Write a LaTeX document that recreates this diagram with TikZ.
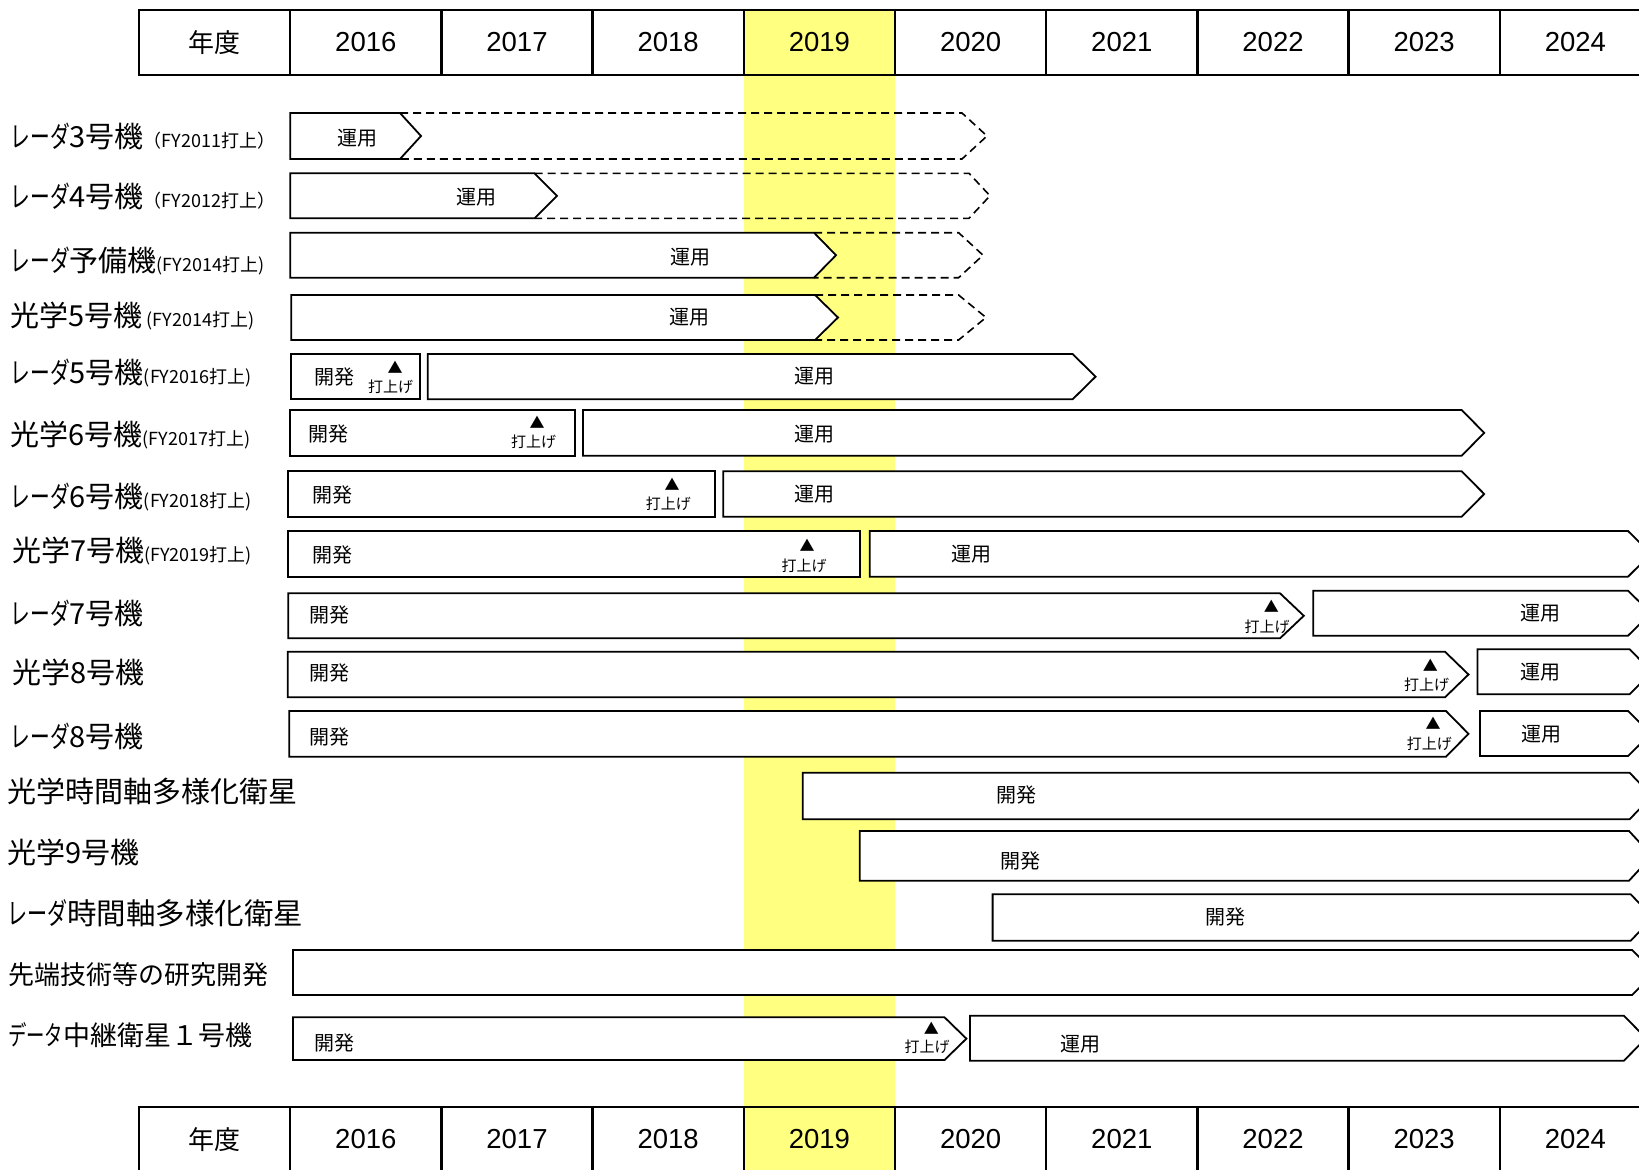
\documentclass[tikz,border=0pt]{standalone}
\usepackage{fontspec}
\setmainfont{Liberation Sans}
\newfontfamily\jp{Noto Sans CJK JP}
\newfontfamily\jpk[FakeStretch=0.68]{Noto Sans CJK JP}
\definecolor{band}{RGB}{255,255,128}
\newcommand\fs[1]{\fontsize{#1}{#1}\selectfont}
\newcommand\kn[1]{{\jpk #1}}
\newcommand\sm[1]{{\fs{18}#1}}
% arrow bar: [style] x1, x-corner, x-tip, y-top, y-bottom
\newcommand\arrowbar[6][]{%
  \draw[barline,#1] (#2,#5) -- (#3,#5) -- (#4,{(#5+#6)/2}) -- (#3,#6) -- (#2,#6) -- cycle;}
% open dashed continuation: x-start, x-corner, x-tip, y-top, y-bottom
\newcommand\dashbar[5]{%
  \draw[dashline] (#1,#4) -- (#2,#4) -- (#3,{(#4+#5)/2}) -- (#2,#5) -- (#1,#5);}
\newcommand\rectbar[4]{%
  \draw[barline] (#1,#3) rectangle (#2,#4);}

\begin{document}
\begin{tikzpicture}[x=1pt,y=-1pt,
  barline/.style={draw=black,line width=1.8pt,fill=white,line join=miter},
  dashline/.style={draw=black,line width=1.6pt,dash pattern=on 8pt off 5pt},
  cell/.style={draw=black,line width=2.4pt,minimum width=151.2pt,minimum height=65pt,inner sep=0pt,font=\fs{27.5}},
  lab/.style={anchor=west,inner sep=0pt,font=\jp\fs{29}},
  bartxt/.style={inner sep=0pt,font=\jp\fs{20}},
  launch/.style={inner sep=0pt,font=\jp\fs{15}},
  tri/.style={inner sep=0pt,font=\jp\fs{15}},
]
\useasboundingbox (0,0) rectangle (1639,1170);
\clip (0,0) rectangle (1639,1170);
\fill[white] (0,0) rectangle (1639,1170);

% highlighted fiscal year 2019
\fill[band] (743.8,10) rectangle (895,1172);

% header and footer tables
\node[cell,font=\jp\fs{26}] (hY) at (214.6,42.5) {年度};
\node[cell,font=\jp\fs{26}] (fY) at (214.6,1139.5) {年度};
\foreach \i/\yr in {1/2016,2/2017,3/2018,4/2019,5/2020,6/2021,7/2022,8/2023,9/2024}{
  \node[cell] (h\yr) at ({214.6+151.2*\i},42.5) {\yr};
  \node[cell] (f\yr) at ({214.6+151.2*\i},1139.5) {\yr};
}

% ---- dashed continuations (rows 1-4)
\dashbar{400}{962}{987}{113}{159}
\dashbar{534.5}{969}{990}{173.3}{218.3}
\dashbar{814}{958.6}{983}{232.7}{277.7}
\dashbar{815}{958.6}{986}{295}{340}

% ---- row 1-4 operation bars
\arrowbar{290.3}{400}{421}{113}{159}
\arrowbar{290.3}{534.5}{557}{173.3}{218.3}
\arrowbar{290.3}{814}{836}{232.7}{277.7}
\arrowbar{291.3}{815}{838}{295}{340}

% ---- row 5
\rectbar{291.3}{420}{354}{399.3}
\arrowbar{427.8}{1072.6}{1095.6}{354}{399.3}
% ---- row 6
\rectbar{289.7}{575.3}{410}{455.7}
\arrowbar{583}{1461.7}{1484.2}{410}{455.7}
% ---- row 7
\rectbar{288.2}{715}{471}{516.7}
\arrowbar{723.3}{1461.7}{1484.2}{471.3}{516.7}
% ---- row 8
\rectbar{288.2}{859.7}{531}{576.7}
\arrowbar{869.7}{1628}{1651}{531}{576.7}
% ---- row 9
\arrowbar{288.2}{1280}{1303.8}{593.3}{638.3}
\arrowbar{1313.2}{1628}{1651}{590.7}{635.7}
% ---- row 10
\arrowbar{287.7}{1445}{1468.5}{651.7}{697.3}
\arrowbar{1477.4}{1629.6}{1652}{649.3}{694.3}
% ---- row 11
\arrowbar{289.2}{1446}{1468.5}{711}{756.7}
\arrowbar{1480}{1628}{1651}{711}{756}
% ---- rows 12-15
\arrowbar{802.8}{1629.6}{1652}{772.7}{819.3}
\arrowbar{859.7}{1629}{1652}{831}{880.7}
\arrowbar{992.6}{1630.7}{1653}{894.3}{940.7}
\arrowbar{292.9}{1632}{1655}{950}{995}
% ---- row 16
\arrowbar{292.9}{944.5}{966.4}{1017.3}{1060}
\arrowbar{970}{1623.9}{1646}{1015.7}{1060.7}

% ---- texts in bars
\node[bartxt] (u1) at (357,138) {運用};
\node[bartxt] (u2) at (476,196.7) {運用};
\node[bartxt] (u3) at (690,256.7) {運用};
\node[bartxt] (u4) at (689,316.7) {運用};

\node[bartxt] (k5) at (334.7,376.7) {開発};
\node[tri] (a5) at (395,367) {▲};
\node[launch] (l5) at (390.7,386.7) {打上げ};
\node[bartxt] (u5) at (814,376.5) {運用};

\node[bartxt] (k6) at (328.5,434) {開発};
\node[tri] (a6) at (537,422.7) {▲};
\node[launch] (l6) at (533.5,441.7) {打上げ};
\node[bartxt] (u6) at (814,434) {運用};

\node[bartxt] (k7) at (332.6,495) {開発};
\node[tri] (a7) at (672,484) {▲};
\node[launch] (l7) at (668.4,503.3) {打上げ};
\node[bartxt] (u7) at (814,494.5) {運用};

\node[bartxt] (k8) at (332.6,555) {開発};
\node[tri] (a8) at (807,545.6) {▲};
\node[launch] (l8) at (804,565.5) {打上げ};
\node[bartxt] (u8) at (971.7,554) {運用};

\node[bartxt] (k9) at (329.5,615) {開発};
\node[tri] (a9) at (1271.4,606.7) {▲};
\node[launch] (l9) at (1267,626.7) {打上げ};
\node[bartxt] (u9) at (1540.7,613.3) {運用};

\node[bartxt] (k10) at (329.5,673.3) {開発};
\node[tri] (a10) at (1430.4,665) {▲};
\node[launch] (l10) at (1426.7,685) {打上げ};
\node[bartxt] (u10) at (1540.7,671.7) {運用};

\node[bartxt] (k11) at (329.5,736.7) {開発};
\node[tri] (a11) at (1433,723.3) {▲};
\node[launch] (l11) at (1429.3,743.3) {打上げ};
\node[bartxt] (u11) at (1541.7,734) {運用};

\node[bartxt] (k12) at (1016,795) {開発};
\node[bartxt] (k13) at (1020.3,861) {開発};
\node[bartxt] (k14) at (1225.3,916.7) {開発};

\node[bartxt] (k16) at (334.7,1043.3) {開発};
\node[tri] (a16) at (931.4,1028.3) {▲};
\node[launch] (l16) at (927.2,1046.7) {打上げ};
\node[bartxt] (u16) at (1080,1044) {運用};

% ---- row labels
\node[lab] (L1) at (10.5,136) {\kn{レーダ}3号機\sm{（FY2011打上）}};
\node[lab] (L2) at (10.5,196.5) {\kn{レーダ}4号機\sm{（FY2012打上）}};
\node[lab] (L3) at (10.5,260.5) {\kn{レーダ}予備機\sm{(FY2014打上)}};
\node[lab] (L4) at (10.5,316) {光学5号機\sm{ (FY2014打上)}};
\node[lab] (L5) at (10.5,373) {\kn{レーダ}5号機\sm{(FY2016打上)}};
\node[lab] (L6) at (10.5,435) {光学6号機\sm{(FY2017打上)}};
\node[lab] (L7) at (10.5,497) {\kn{レーダ}6号機\sm{(FY2018打上)}};
\node[lab] (L8) at (12,551) {光学7号機\sm{(FY2019打上)}};
\node[lab] (L9) at (10.5,613) {\kn{レーダ}7号機};
\node[lab] (L10) at (12,672.5) {光学8号機};
\node[lab] (L11) at (10.5,736.5) {\kn{レーダ}8号機};
\node[lab] (L12) at (7,791.5) {光学時間軸多様化衛星};
\node[lab] (L13) at (7,852) {光学9号機};
\node[lab,font=\jp\fs{29.5}] (L14) at (7,913) {\kn{レーダ}時間軸多様化衛星};
\node[lab,font=\jp\fs{26}] (L15) at (8,975) {先端技術等の研究開発};
\node[lab,font=\jp\fs{27}] (L16) at (8,1035) {\kn{データ}中継衛星１号機};
\end{tikzpicture}
\end{document}
